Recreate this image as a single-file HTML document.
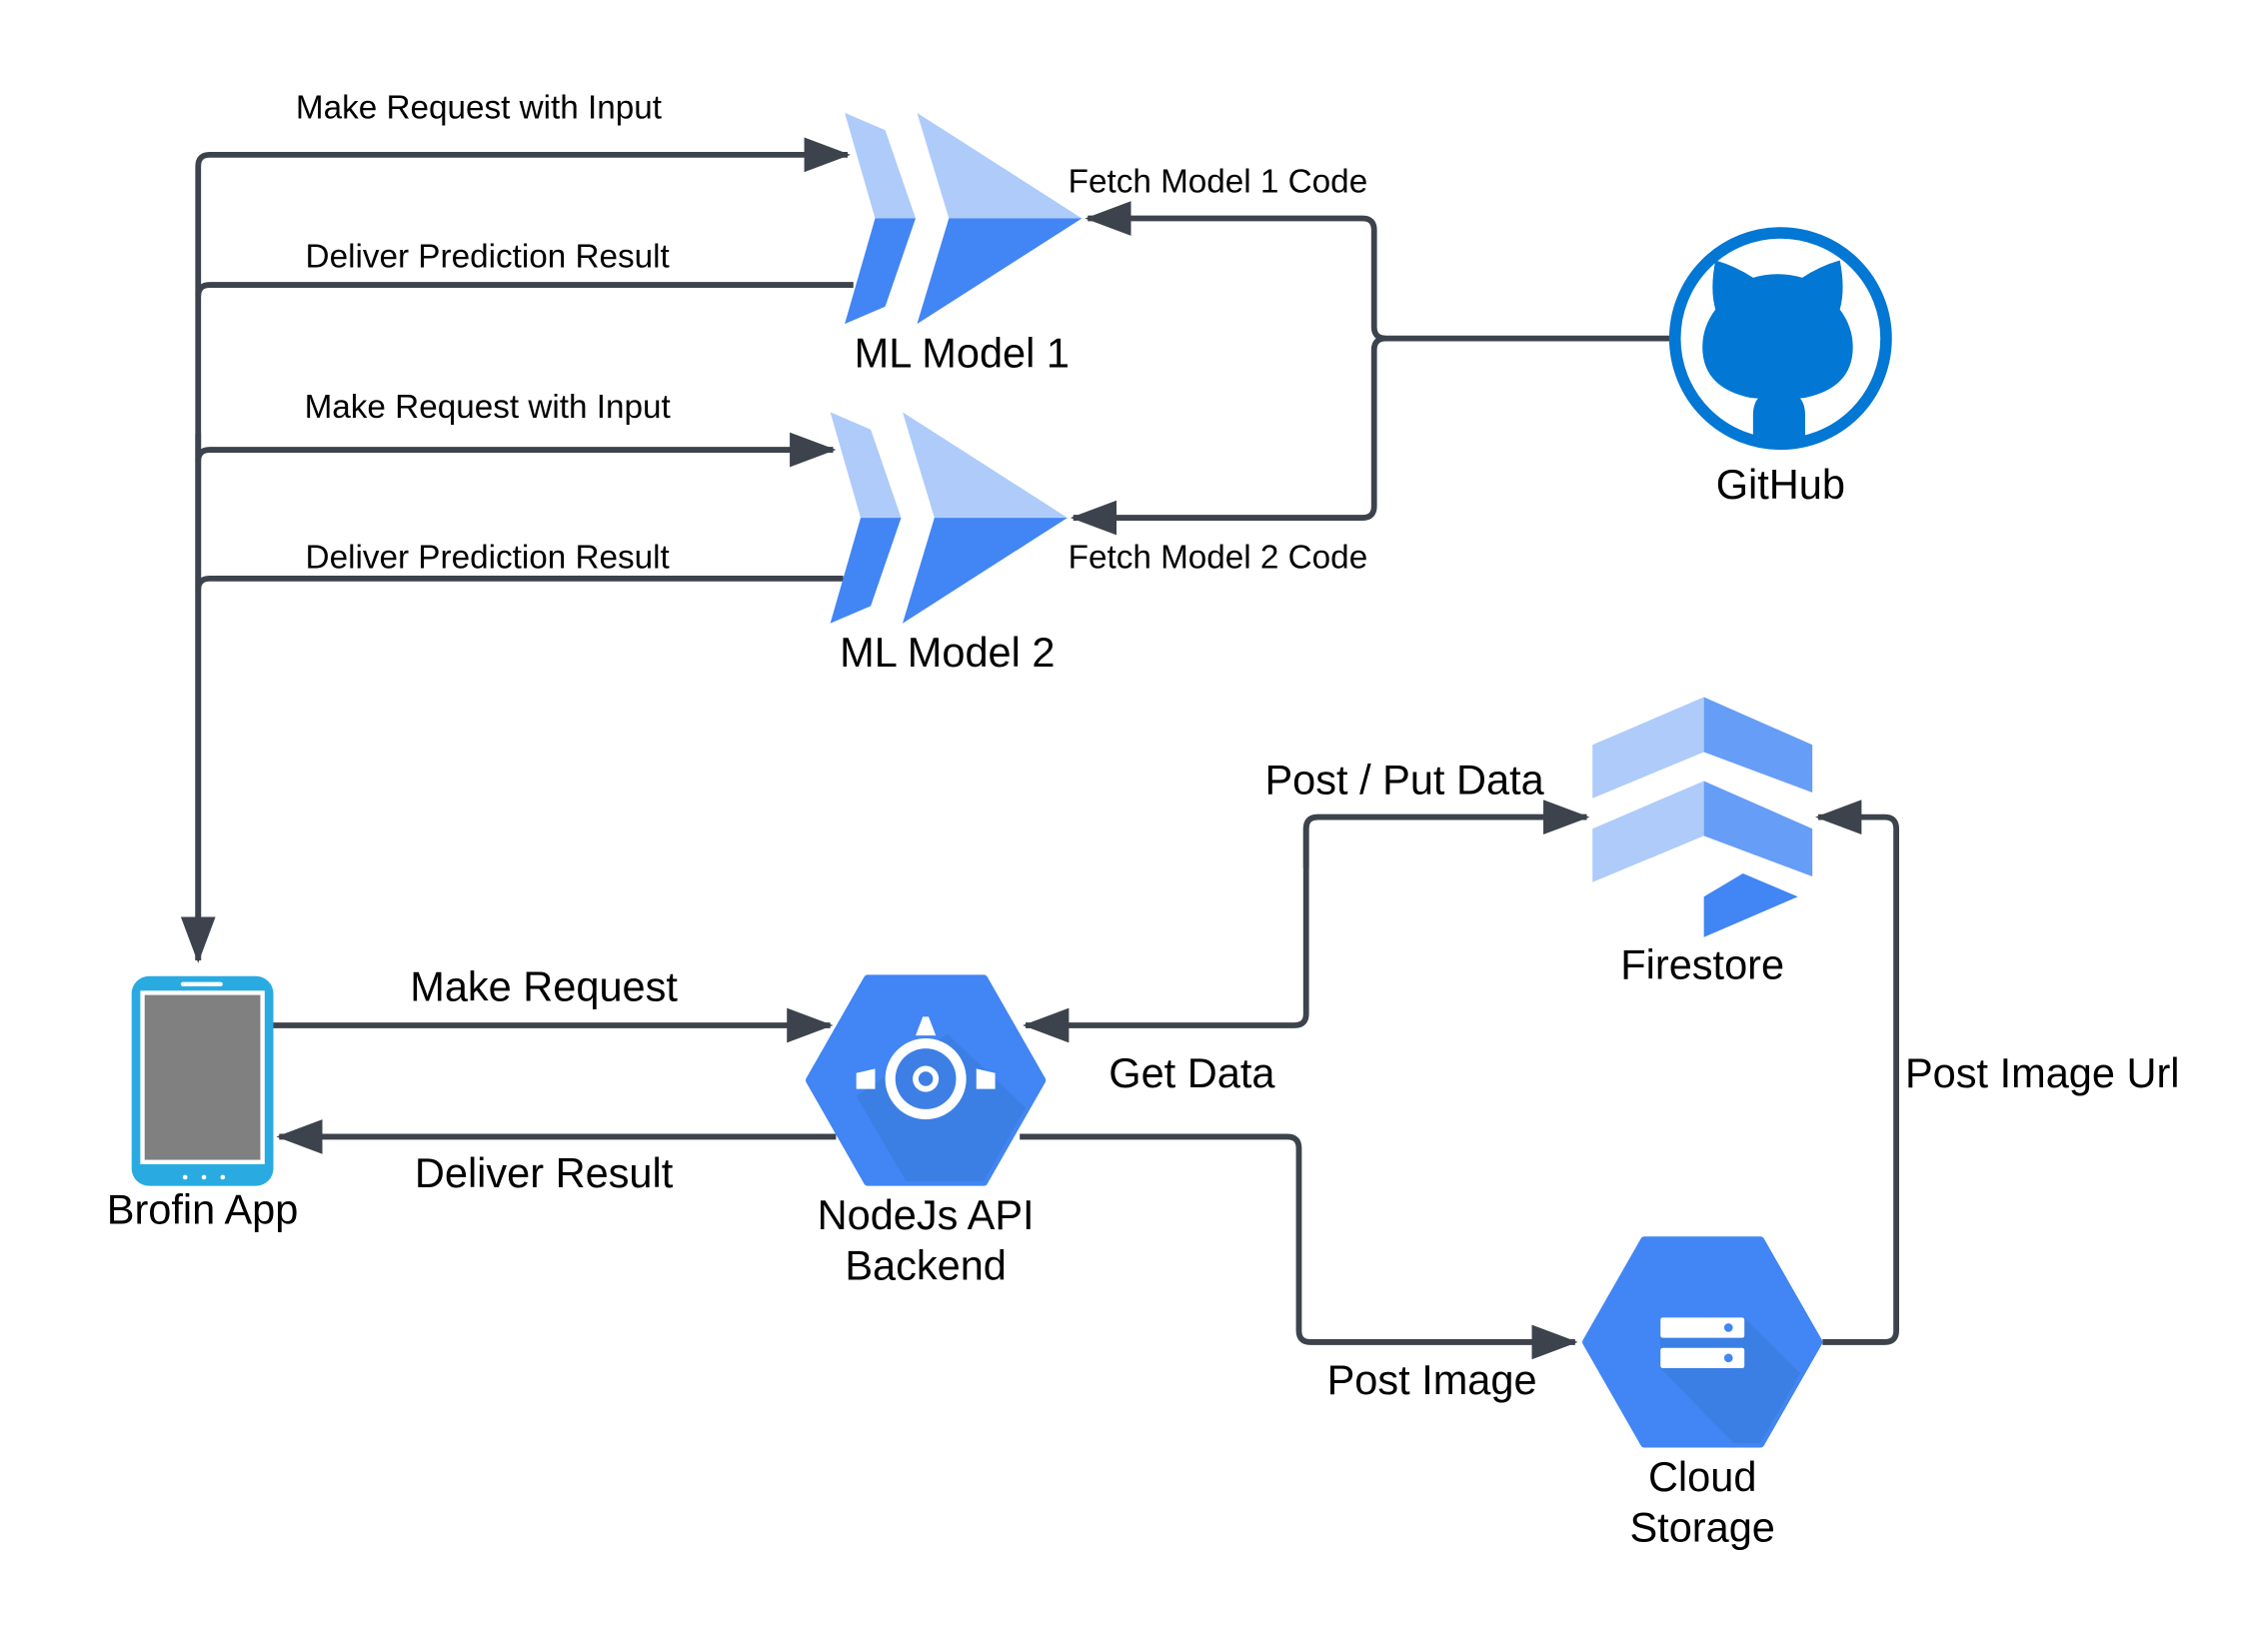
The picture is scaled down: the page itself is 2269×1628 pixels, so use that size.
<!DOCTYPE html>
<html><head><meta charset="utf-8"><style>
html,body{margin:0;padding:0;background:#fff;}
svg{display:block;}
text{font-family:"Liberation Sans",sans-serif;fill:#000;}
</style></head><body>
<svg width="2269" height="1628" viewBox="0 0 1568 1125" preserveAspectRatio="none" xmlns="http://www.w3.org/2000/svg">
<defs>
<marker id="ah" markerWidth="8" markerHeight="6" refX="7.5" refY="3" orient="auto" markerUnits="strokeWidth">
<path d="M0,0 L8,3 L0,6 z" fill="#3d434c"/></marker>
<clipPath id="h1"><polygon points="560,747 600,677 680,677 720,747 680,817 600,817"/></clipPath>
<clipPath id="h2"><polygon points="1097,928 1137,858 1217,858 1257,928 1217,998 1137,998"/></clipPath>
</defs>
<g fill="none" stroke="#3d434c" stroke-width="4" stroke-linejoin="round">
<path d="M137,664 V115 Q137,107 145,107 H586" marker-end="url(#ah)"/>
<path d="M137,300 V664" marker-end="url(#ah)"/>
<path d="M590,197 H145 Q137,197 137,205"/>
<path d="M137,319 Q137,311 145,311 H576" marker-end="url(#ah)"/>
<path d="M583,400 H145 Q137,400 137,408"/>
<path d="M1155,234 H958 Q950,234 950,226 V159 Q950,151 942,151 H752" marker-end="url(#ah)"/>
<path d="M958,234 Q950,234 950,242 V350 Q950,358 942,358 H742" marker-end="url(#ah)"/>
<path d="M189,709 H574" marker-end="url(#ah)"/>
<path d="M578,786 H193" marker-end="url(#ah)"/>
<path d="M1097,565 H911 Q903,565 903,573 V701 Q903,709 895,709 H709" marker-end="url(#ah)"/>
<path d="M903,600 V573 Q903,565 911,565 H1097" marker-end="url(#ah)"/>
<path d="M705,786 H890 Q898,786 898,794 V920 Q898,928 906,928 H1089" marker-end="url(#ah)"/>
<path d="M1260,928 H1303 Q1311,928 1311,920 V573 Q1311,565 1303,565 H1257" marker-end="url(#ah)"/>
</g>
<g>
<polygon points="584,78 612,90 633,151 605,151" fill="#aecbfa"/>
<polygon points="605,151 633,151 612,212 584,224" fill="#4285f4"/>
<polygon points="634,78 748,151 656,151" fill="#aecbfa"/>
<polygon points="656,151 748,151 634,224" fill="#4285f4"/>
</g>
<g transform="translate(-10,207)">
<polygon points="584,78 612,90 633,151 605,151" fill="#aecbfa"/>
<polygon points="605,151 633,151 612,212 584,224" fill="#4285f4"/>
<polygon points="634,78 748,151 656,151" fill="#aecbfa"/>
<polygon points="656,151 748,151 634,224" fill="#4285f4"/>
</g>
<circle cx="1231" cy="234" r="73" fill="#fff" stroke="#0277d4" stroke-width="8"/>
<g fill="#0277d4">
<path d="M1186,214 Q1182,200 1186,180 Q1200,184 1212,192 Q1229,187 1246,192 Q1258,184 1272,180 Q1276,200 1272,214 Q1281,226 1281,240 Q1281,268 1248,275 Q1240,276 1231,276 Q1222,276 1210,275 Q1177,268 1177,240 Q1177,226 1186,214 Z"/>
<path d="M1212,307 V287 Q1212,270 1230,270 Q1248,270 1248,287 V307 Z"/>
</g>
<polygon points="1101,515 1178,482 1178,520 1101,552" fill="#aecbfa"/>
<polygon points="1178,482 1253,515 1253,548 1178,520" fill="#669df6"/>
<polygon points="1101,573 1178,540 1178,578 1101,610" fill="#aecbfa"/>
<polygon points="1178,540 1253,573 1253,606 1178,578" fill="#669df6"/>
<polygon points="1178,620 1205,604 1243,620 1178,648" fill="#4285f4"/>
<rect x="91" y="675" width="98" height="145" rx="12" fill="#29abe2"/>
<rect x="97" y="685" width="86" height="120" fill="#fff"/>
<rect x="100" y="688" width="80" height="114" fill="#808080"/>
<rect x="125" y="679" width="29" height="3" rx="1.5" fill="#fff"/>
<circle cx="128" cy="814" r="1.6" fill="#fff"/><circle cx="141" cy="814" r="1.6" fill="#fff"/><circle cx="154" cy="814" r="1.6" fill="#fff"/>
<polygon points="560,747 600,677 680,677 720,747 680,817 600,817" fill="#4285f4" stroke="#4285f4" stroke-width="6" stroke-linejoin="round"/>
<path d="M655,715 L740,795 L700,840 L640,840 L592,758 Z" fill="#3b7de0" opacity="0.8" clip-path="url(#h1)"/>
<g fill="#fff">
<circle cx="640" cy="746" r="28"/>
<circle cx="640" cy="746" r="21" fill="#3d7fe5"/>
<circle cx="640" cy="746" r="9"/>
<circle cx="640" cy="746" r="5" fill="#3d7fe5"/>
<path d="M638,703 L642,703 L647,716 L633,716 Z"/>
<path d="M592,742 L605,739 L605,753 L592,753 Z"/>
<path d="M688,742 L675,739 L675,753 L688,753 Z"/>
</g>
<polygon points="1097,928 1137,858 1217,858 1257,928 1217,998 1137,998" fill="#4285f4" stroke="#4285f4" stroke-width="6" stroke-linejoin="round"/>
<path d="M1148,946 L1148,925 L1206,911 L1270,975 L1230,1010 L1210,1010 Z" fill="#3b7de0" opacity="0.8" clip-path="url(#h2)"/>
<rect x="1148" y="911" width="58" height="14" rx="1.5" fill="#fff"/>
<rect x="1148" y="932" width="58" height="14" rx="1.5" fill="#fff"/>
<circle cx="1195" cy="918" r="3" fill="#4285f4"/><circle cx="1195" cy="939" r="3" fill="#4285f4"/>
<g font-size="23" text-anchor="middle">
<text x="331" y="82">Make Request with Input</text>
<text x="337" y="185">Deliver Prediction Result</text>
<text x="337" y="289">Make Request with Input</text>
<text x="337" y="393">Deliver Prediction Result</text>
<text x="842" y="133">Fetch Model 1 Code</text>
<text x="842" y="393">Fetch Model 2 Code</text>
</g>
<g font-size="28.7" text-anchor="middle">
<text x="665" y="254">ML Model 1</text>
<text x="655" y="461">ML Model 2</text>
<text x="1231" y="345">GitHub</text>
<text x="971" y="549">Post / Put Data</text>
<text x="1177" y="677">Firestore</text>
<text x="376" y="692">Make Request</text>
<text x="824" y="752">Get Data</text>
<text x="1412" y="752">Post Image Url</text>
<text x="376" y="821">Deliver Result</text>
<text x="140" y="846">Brofin App</text>
<text x="640" y="850">NodeJs API</text>
<text x="640" y="885">Backend</text>
<text x="990" y="964">Post Image</text>
<text x="1177" y="1031">Cloud</text>
<text x="1177" y="1066">Storage</text>
</g>
</svg>
</body></html>
